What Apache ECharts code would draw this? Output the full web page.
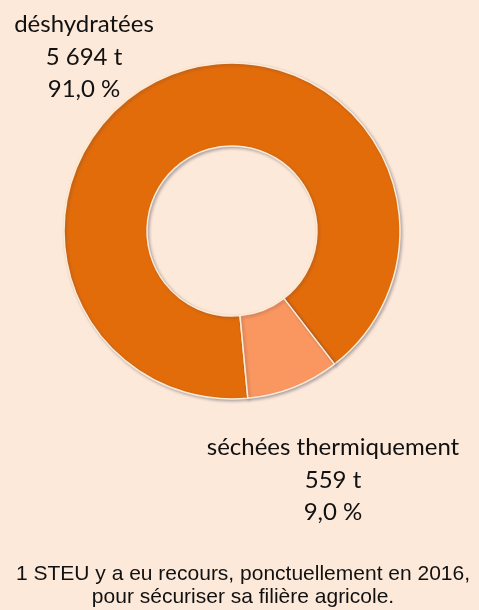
<!DOCTYPE html>
<html>
<head>
<meta charset="utf-8">
<script src="https://cdn.jsdelivr.net/npm/echarts@6/dist/echarts.min.js"></script>
<style>
  html, body { margin: 0; padding: 0; background: #FDE9D9; }
  #chart { width: 479px; height: 610px; }
</style>
</head>
<body>
<div id="chart"></div>
<script>
// Boues d'épuration : répartition par traitement (tonnes de matière sèche)
const categories = ['déshydratées', 'séchées thermiquement'];
const tonnages = [5694, 559];
const percents = [91.0, 9.0];
const footnote = ['1 STEU y a eu recours, ponctuellement en 2016,', 'pour sécuriser sa filière agricole.'];

const sliceColors = ['#E36C0A', '#FA9660'];
// label anchor (centre of the middle line) for each slice
const labelAnchors = [[84, 57], [333, 480]];

function frNumber(v) {
  return String(v).replace(/\B(?=(\d{3})+(?!\d))/g, ' ');
}
function frPercent(v) {
  return v.toFixed(1).replace('.', ',') + ' %';
}

const chart = echarts.init(document.getElementById('chart'), null, { renderer: 'canvas' });

chart.setOption({
  backgroundColor: '#FDE9D9',
  animation: false,
  series: [{
    type: 'pie',
    center: [232, 231],
    radius: [85, 168],
    startAngle: -84.6,
    clockwise: true,
    avoidLabelOverlap: false,
    data: categories.map((name, i) => ({
      name: name,
      value: tonnages[i],
      itemStyle: { color: sliceColors[i] }
    })),
    itemStyle: {
      borderColor: '#FDEBD6',
      borderWidth: 1.5,
      shadowColor: 'rgba(60, 60, 90, 0.35)',
      shadowBlur: 3,
      shadowOffsetX: 1.5,
      shadowOffsetY: 1.5
    },
    label: {
      show: true,
      position: 'outside',
      formatter: p => p.name + '\n' + frNumber(tonnages[p.dataIndex]) + ' t\n' + frPercent(percents[p.dataIndex]),
      fontFamily: 'Lato',
      fontSize: 24,
      lineHeight: 32.5,
      color: '#111111',
      align: 'center'
    },
    labelLine: { show: false },
    labelLayout: function (params) {
      const a = labelAnchors[params.dataIndex];
      return { x: a[0], y: a[1], align: 'center', verticalAlign: 'middle', moveOverlap: false };
    },
    emphasis: { disabled: true }
  }],
  graphic: [{
    type: 'text',
    x: 243,
    y: 586,
    style: {
      text: footnote.join('\n'),
      fontFamily: 'Liberation Sans',
      fontSize: 21,
      lineHeight: 23,
      fill: '#111111',
      textAlign: 'center',
      textVerticalAlign: 'middle'
    }
  }]
});
</script>
</body>
</html>
